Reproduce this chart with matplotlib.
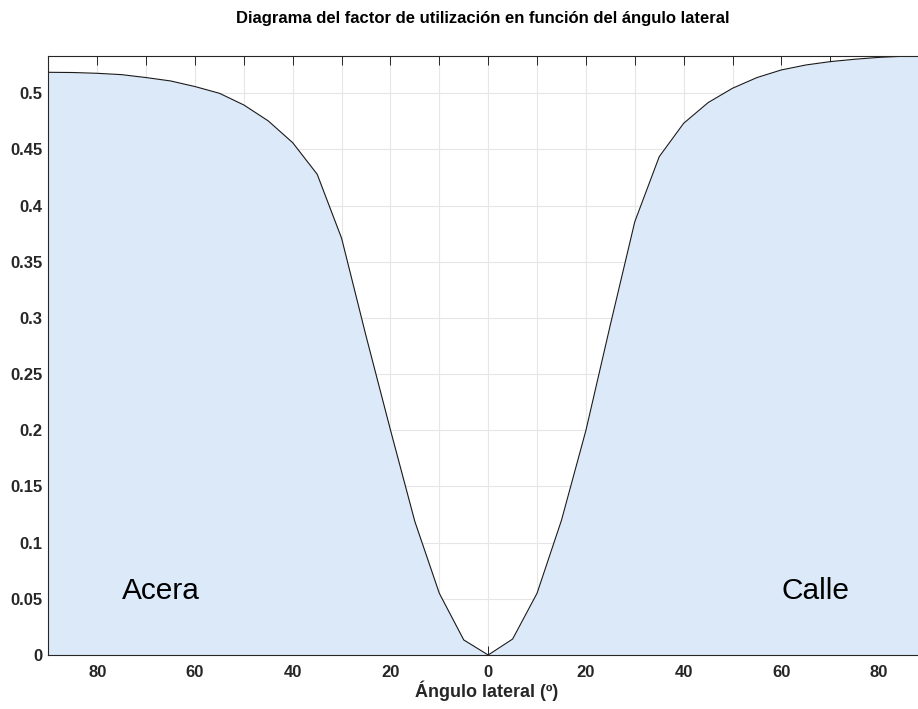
import numpy as np
import matplotlib
matplotlib.use("Agg")
import matplotlib.pyplot as plt
from matplotlib.ticker import FuncFormatter

# lateral angle (deg), negative = sidewalk side, positive = street side
angulo = [-90, -85, -80, -75, -70, -65, -60, -55, -50, -45, -40, -35, -30, -25,
          -20, -15, -10, -5, 0, 5, 10, 15, 20, 25, 30, 35, 40, 45, 50, 55, 60,
          65, 70, 75, 80, 85, 90]
factor = [0.5187, 0.5185, 0.5178, 0.5166, 0.514, 0.511, 0.506, 0.500, 0.4896,
          0.4754, 0.456, 0.428, 0.371, 0.284, 0.2003, 0.1187, 0.0549, 0.0134,
          0.0, 0.0142, 0.055, 0.120, 0.200, 0.294, 0.3857, 0.4436, 0.4733,
          0.4917, 0.5045, 0.514, 0.5208, 0.5252, 0.5282, 0.5303, 0.532, 0.533,
          0.5338]
x_ticks = [-80, -60, -40, -20, 0, 20, 40, 60, 80]
y_ticks = [0, 0.05, 0.1, 0.15, 0.2, 0.25, 0.3, 0.35, 0.4, 0.45, 0.5]

plt.rcParams['font.family'] = ['Liberation Sans', 'DejaVu Sans']
axis_col = '#262626'

fig = plt.figure(figsize=(9.18, 7.09), dpi=100)
ax = fig.add_axes([48.4 / 918, 54 / 709, 879.6 / 918, 599 / 709])

ax.fill_between(angulo, factor, 0, color='#dce9f8', lw=0, zorder=1)
ax.plot(angulo, factor, '-', color='#1a1a1a', lw=0.8, zorder=2)

ax.set_xlim(-90, 90)
ax.set_ylim(0, 0.5332)
ax.set_xticks(x_ticks)
ax.set_xticks(np.arange(-90, 91, 10), minor=True)
ax.set_yticks(y_ticks)
ax.xaxis.set_major_formatter(FuncFormatter(lambda v, p: "{:g}".format(abs(v))))
ax.yaxis.set_major_formatter(FuncFormatter(lambda v, p: "{:g}".format(v)))

ax.grid(True, which='both', axis='x', color='#e6e6e6', lw=0.8, zorder=0)
ax.grid(True, which='major', axis='y', color='#e6e6e6', lw=0.8, zorder=0)
ax.set_axisbelow(True)
for sp in ax.spines.values():
    sp.set_color(axis_col)
    sp.set_linewidth(0.8)
    sp.set_zorder(3)
ax.tick_params(which='both', direction='in', top=True, right=True,
               length=6.5, width=0.7, color=axis_col, labelcolor=axis_col,
               labelsize=12)
ax.tick_params(axis='x', which='major', pad=7)
ax.tick_params(axis='y', which='major', pad=4.5)
for lab in ax.get_xticklabels() + ax.get_yticklabels():
    lab.set_fontweight('bold')

ax.text(-75, 0.05, "Acera", fontsize=21.5, ha='left', va='baseline', zorder=4)
ax.text(60, 0.05, "Calle", fontsize=21.5, ha='left', va='baseline', zorder=4)

fig.text(483 / 918, 1 - 18 / 709,
         "Diagrama del factor de utilización en función del ángulo lateral",
         ha='center', va='center', fontsize=12, fontweight='bold', color='#000000')
fig.text(487 / 918, 1 - 691 / 709, "Ángulo lateral (º)",
         ha='center', va='center', fontsize=13, fontweight='bold', color=axis_col)

fig.savefig("out.png", dpi=100)
